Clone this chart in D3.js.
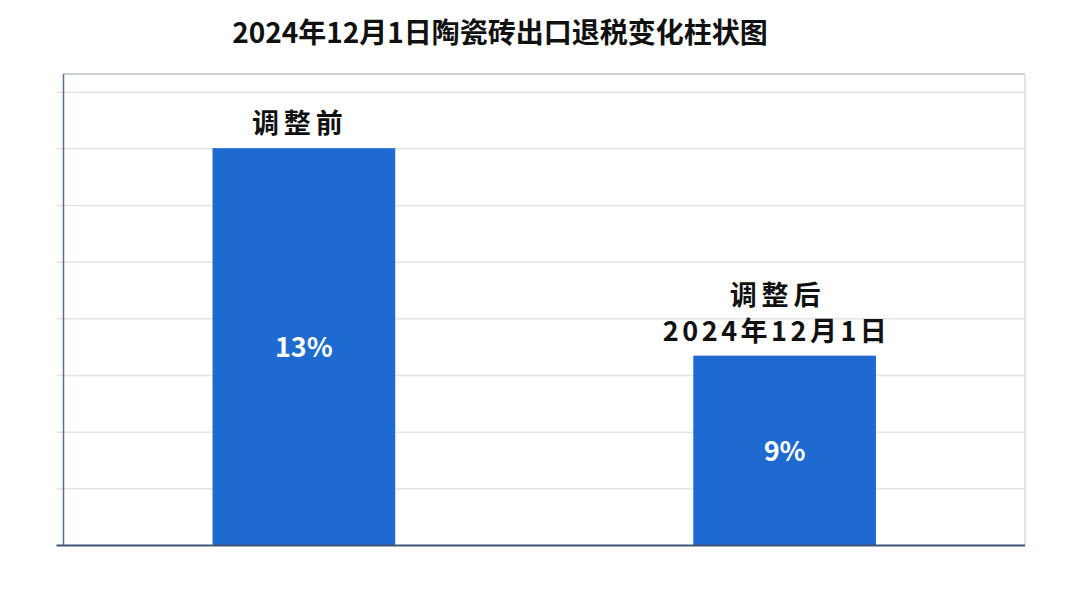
<!DOCTYPE html>
<html>
  <head>
    <script src="https://d3js.org/d3.v7.min.js" charset="utf-8"></script>
    <meta charset="UTF-8">
    <title>陶瓷砖出口退税变化柱状图</title>
    <style>
      body { margin: 0; background: #fff; }
      text { font-family: "Noto Sans CJK SC", "Noto Sans", sans-serif; }
    </style>
  </head>
  <body>
    <svg class="chart"></svg>
    <script type="text/javascript">

     var width = 1070,
         height = 606,
         plotLeft = 63.5,
         plotRight = 1025,
         plotTop = 74,
         plotBottom = 545.5;

     // data
     var categories = ["调整前", "调整后"];
     var rates = [13, 9];
     var valueLabels = ["13%", "9%"];
     var barLabels = [["调整前"], ["调整后", "2024年12月1日"]];
     var gridSteps = [0, 1, 2, 3, 4, 5, 6, 7, 8];

     var chart = d3.select(".chart")
                   .attr("width", width)
                   .attr("height", height);

     var x = d3.scaleBand()
               .domain(categories)
               .range([plotLeft, plotRight])
               .paddingInner(0.62)
               .paddingOuter(0.31);

     // value axis does not start at zero in the original picture
     var y = d3.scaleLinear()
               .domain([5.34, 14.43])
               .range([plotBottom, plotTop]);

     var grid = d3.scaleLinear()
                  .domain([0, 8.32])
                  .range([plotBottom, plotTop]);

     chart.append("text")
          .attr("x", 500)
          .attr("y", 43)
          .attr("text-anchor", "middle")
          .attr("font-size", 28)
          .attr("font-weight", "bold")
          .attr("fill", "#111")
          .text("2024年12月1日陶瓷砖出口退税变化柱状图");

     // plot frame
     chart.append("line")
          .attr("x1", plotLeft).attr("x2", plotRight)
          .attr("y1", plotTop).attr("y2", plotTop)
          .attr("stroke", "#b9bec6").attr("stroke-width", 1.5);
     chart.append("line")
          .attr("x1", plotRight).attr("x2", plotRight)
          .attr("y1", plotTop).attr("y2", plotBottom)
          .attr("stroke", "#dcdde0").attr("stroke-width", 1.5);

     chart.append("g")
          .selectAll("line")
          .data(gridSteps.slice(1))
          .enter().append("line")
          .attr("x1", plotLeft - 7)
          .attr("x2", plotRight)
          .attr("y1", function(d) { return grid(d); })
          .attr("y2", function(d) { return grid(d); })
          .attr("stroke", "#e4e4e4")
          .attr("stroke-width", 1.5);

     chart.append("g")
          .selectAll("rect")
          .data(rates)
          .enter().append("rect")
          .attr("x", function(d, i) { return x(categories[i]); })
          .attr("y", function(d) { return y(d); })
          .attr("width", x.bandwidth())
          .attr("height", function(d) { return plotBottom - y(d); })
          .attr("fill", "#1f6ad1");

     chart.append("g")
          .selectAll("text")
          .data(rates)
          .enter().append("text")
          .attr("x", function(d, i) { return x(categories[i]) + x.bandwidth() / 2; })
          .attr("y", function(d) { return (y(d) + plotBottom) / 2 + 10; })
          .attr("text-anchor", "middle")
          .attr("font-size", 27)
          .attr("font-weight", "bold")
          .attr("fill", "#fff")
          .text(function(d, i) { return valueLabels[i]; });

     // labels above bars, last line sits just over the bar
     barLabels.forEach(function(lines, i) {
         var cx = x(categories[i]) + x.bandwidth() / 2 - 4 - i * 3;
         lines.forEach(function(t, j) {
             var ls = t.length > 4 ? 3.5 : 5;
             chart.append("text")
                  .attr("x", cx + (ls < 5 ? -1 : 0))
                  .attr("y", y(rates[i]) - 15 - (lines.length - 1 - j) * 36)
                  .attr("text-anchor", "middle")
                  .attr("font-size", 27)
                  .attr("font-weight", "bold")
                  .attr("letter-spacing", ls + "px")
                  .attr("fill", "#111")
                  .text(t);
         });
     });

     // axes
     chart.append("line")
          .attr("x1", plotLeft).attr("x2", plotLeft)
          .attr("y1", plotTop).attr("y2", plotBottom)
          .attr("stroke", "#5a6f8f").attr("stroke-width", 1.5);
     chart.append("line")
          .attr("x1", plotLeft - 7).attr("x2", plotRight)
          .attr("y1", plotBottom).attr("y2", plotBottom)
          .attr("stroke", "#3f5475").attr("stroke-width", 2);

    </script>
  </body>
</html>
